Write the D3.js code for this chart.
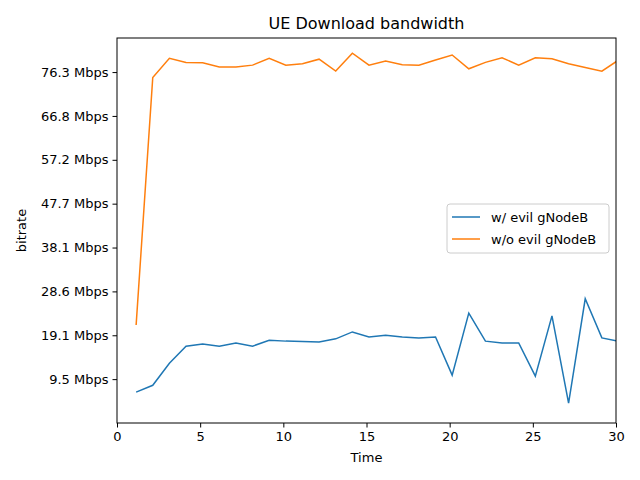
<!DOCTYPE html>
<html><head><meta charset="utf-8">
<script src="https://cdn.jsdelivr.net/npm/d3@7"></script>
<style>body{margin:0;background:#fff}text{font-family:"DejaVu Sans",sans-serif;}</style>
</head><body><svg id="c" width="640" height="480"></svg>
<script>
const times = [1.15,2.15,3.15,4.15,5.15,6.15,7.15,8.15,9.15,10.15,11.15,12.15,13.15,14.15,15.15,16.15,17.15,18.15,19.15,20.15,21.15,22.15,23.15,24.15,25.15,26.15,27.15,28.15,29.15,30.15];
const evil = [6.7,8.2,13.0,16.7,17.2,16.7,17.4,16.7,18.0,17.8,17.7,17.6,18.3,19.8,18.7,19.1,18.7,18.5,18.7,10.4,23.9,17.8,17.4,17.4,10.2,23.3,4.3,27.0,18.5,17.8];
const noEvil = [21.3,75.1,79.3,78.4,78.3,77.4,77.4,77.8,79.3,77.8,78.1,79.1,76.5,80.4,77.8,78.7,77.9,77.8,78.9,80.0,77.0,78.4,79.4,77.8,79.4,79.2,78.1,77.3,76.5,78.9];
const yTicks = [9.5367,19.0735,28.6102,38.147,47.6837,57.2205,66.7572,76.2939];
const yLabels = ["9.5 Mbps","19.1 Mbps","28.6 Mbps","38.1 Mbps","47.7 Mbps","57.2 Mbps","66.8 Mbps","76.3 Mbps"];
const xTicks = [0,5,10,15,20,25,30];
const seriesNames = ["w/ evil gNodeB","w/o evil gNodeB"];
const colors = ["#1f77b4","#ff7f0e"];

const L=117,R=616,T=38,B=423;
const svg=d3.select("#c");
const x=d3.scaleLinear().domain([0,30]).range([L,R]);
const y=d3.scaleLinear().domain([0,83.7]).range([B,T]);
svg.append("defs").append("clipPath").attr("id","cp").append("rect").attr("x",L).attr("y",T).attr("width",R-L).attr("height",B-T);
const line=d3.line().x((d,i)=>x(times[i])).y(d=>y(d));
[evil,noEvil].forEach((s,k)=>{
 svg.append("path").datum(s).attr("d",line).attr("fill","none").attr("stroke",colors[k]).attr("stroke-width",1.5).attr("clip-path","url(#cp)");
});
const xa=svg.append("g").attr("transform",`translate(0,${B})`).call(d3.axisBottom(x).tickValues(xTicks).tickSize(4.5).tickPadding(4));
const ya=svg.append("g").attr("transform",`translate(${L},0)`).call(d3.axisLeft(y).tickValues(yTicks).tickFormat((d,i)=>yLabels[i]).tickSize(4.5).tickPadding(4));
[xa,ya].forEach(a=>{a.select(".domain").remove();a.selectAll("text").attr("font-size",13).attr("fill","#000").style("font-family","DejaVu Sans");a.selectAll("line").attr("stroke","#000");});
svg.append("rect").attr("x",L).attr("y",T).attr("width",R-L).attr("height",B-T).attr("fill","none").attr("stroke","#000").attr("stroke-width",1);
svg.append("text").attr("x",(L+R)/2).attr("y",29).attr("text-anchor","middle").attr("font-size",16).text("UE Download bandwidth");
svg.append("text").attr("x",(L+R)/2).attr("y",462).attr("text-anchor","middle").attr("font-size",13).text("Time");
svg.append("text").attr("transform",`translate(26,${(T+B)/2}) rotate(-90)`).attr("text-anchor","middle").attr("font-size",13).text("bitrate");
const lg=svg.append("g");
lg.append("rect").attr("x",447).attr("y",204).attr("width",162).attr("height",49).attr("rx",3).attr("fill","#fff").attr("fill-opacity",0.8).attr("stroke","#ccc");
seriesNames.forEach((n,k)=>{
 const yy=217+k*22;
 lg.append("line").attr("x1",452).attr("x2",480).attr("y1",yy).attr("y2",yy).attr("stroke",colors[k]).attr("stroke-width",1.5);
 lg.append("text").attr("x",491).attr("y",yy+4.5).attr("font-size",13).text(n);
});
</script></body></html>
